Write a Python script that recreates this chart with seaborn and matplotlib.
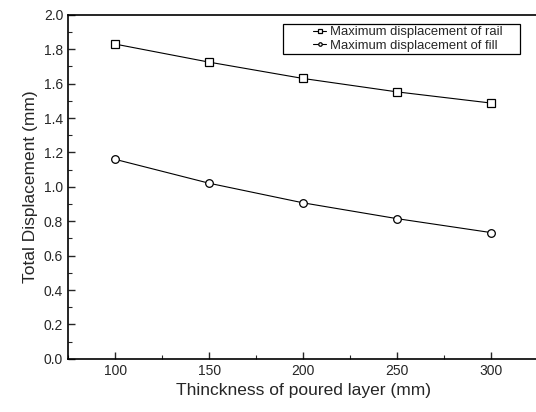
import pandas as pd
import seaborn as sns
import matplotlib.pyplot as plt
from matplotlib.patches import Rectangle
from matplotlib.ticker import MultipleLocator

thickness = [100, 150, 200, 250, 300]
rail_disp = [1.83, 1.725, 1.63, 1.552, 1.487]
fill_disp = [1.16, 1.021, 0.907, 0.815, 0.734]
series_names = ['Maximum displacement of rail', 'Maximum displacement of fill']

if __name__ == '__main__':
  data = pd.DataFrame({
    'thickness': thickness * 2,
    'disp': rail_disp + fill_disp,
    'series': [series_names[0]] * len(thickness) + [series_names[1]] * len(thickness),
  })

  sns.set_style('ticks')
  plt.rcParams['font.family'] = ['Liberation Sans', 'DejaVu Sans']
  plt.rcParams['xtick.direction'] = 'in'
  plt.rcParams['ytick.direction'] = 'in'

  f = plt.figure(figsize=[5.36, 4.12], dpi=100)
  ax = f.add_axes([0.127, 0.129, 0.877, 0.835])

  a = sns.lineplot(data=data, x='thickness', y='disp', hue='series', style='series',
                   markers=['s', 'o'], dashes=False, palette=['black', 'black'],
                   markersize=5.5, markerfacecolor='white', markeredgecolor='black',
                   markeredgewidth=0.9, linewidth=0.8, ax=ax)

  ax.set_xlim(75, 325)
  ax.set_ylim(0, 2.0)
  ax.xaxis.set_major_locator(MultipleLocator(50))
  ax.xaxis.set_minor_locator(MultipleLocator(25))
  ax.yaxis.set_major_locator(MultipleLocator(0.2))
  ax.yaxis.set_minor_locator(MultipleLocator(0.1))
  ax.yaxis.set_major_formatter(plt.FormatStrFormatter('%.1f'))
  ax.tick_params(which='major', length=5, width=1, labelsize=10, top=False, right=False)
  ax.tick_params(which='minor', length=3, width=0.8, top=False, right=False)
  for s in ax.spines.values():
    s.set_linewidth(1.2)
    s.set_color('black')
  ax.spines['right'].set_visible(False)

  ax.set_xlabel('Thinckness of poured layer (mm)', fontsize=12.5)
  ax.set_ylabel('Total Displacement (mm)', fontsize=12.5)

  # legend entries without frame, box drawn separately (it has wide left padding)
  leg = ax.legend(loc='upper left', bbox_to_anchor=(0.584, 0.937),
                  bbox_transform=f.transFigure, fontsize=9.4, frameon=False,
                  handlelength=1.0, borderpad=0, borderaxespad=0,
                  labelspacing=0.1, handletextpad=0.3)
  for h in leg.legend_handles:
    h.set_markersize(2.5)
  f.patches.append(Rectangle((283 / 536, 1 - 54 / 412), 237 / 536, 30 / 412,
                             transform=f.transFigure, fill=False,
                             edgecolor='black', linewidth=0.9))

  plt.savefig('out.png', dpi=100)
